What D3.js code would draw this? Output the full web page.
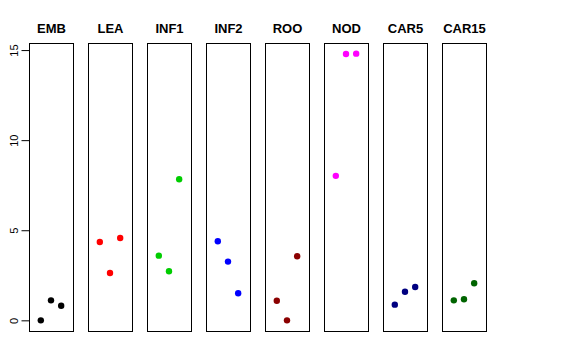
<!DOCTYPE html>
<html><head><meta charset="utf-8">
<script src="https://cdn.jsdelivr.net/npm/d3@7"></script>
<style>body{margin:0;background:#fff}svg{display:block}</style>
</head><body>
<svg id="c" width="576" height="360"></svg>
<script>
const categories = ["EMB","LEA","INF1","INF2","ROO","NOD","CAR5","CAR15"];
const colors = ["#000000","#FF0000","#00CD00","#0000FF","#8B0000","#FF00FF","#000080","#006400"];
const vEMB = [0, 1.11, 0.81];
const vLEA = [4.35, 2.63, 4.57];
const vINF1 = [3.59, 2.72, 7.83];
const vINF2 = [4.39, 3.26, 1.5];
const vROO = [1.09, 0, 3.56];
const vNOD = [8.02, 14.78, 14.8];
const vCAR5 = [0.87, 1.59, 1.85];
const vCAR15 = [1.11, 1.17, 2.06];
const seriesValues = [vEMB, vLEA, vINF1, vINF2, vROO, vNOD, vCAR5, vCAR15];
const yTicks = [0, 5, 10, 15];

const svg = d3.select("#c");
const plotTop = 43, plotBottom = 331;
const panelW = 44, firstX = 29, step = 59;
const y = d3.scaleLinear().domain([-0.592, 15.392]).range([plotBottom, plotTop]);
const panel = d3.scaleLinear().domain([0, 1]).range([firstX, firstX + step]);

categories.forEach((cat, i) => {
  const x0 = panel(i);
  const x = d3.scaleLinear().domain([-0.16, 4.16]).range([x0, x0 + panelW]);
  const g = svg.append("g");
  g.append("rect").attr("x", x0 + 0.5).attr("y", plotTop + 0.5)
    .attr("width", panelW).attr("height", plotBottom - plotTop)
    .attr("fill", "none").attr("stroke", "#000").attr("stroke-width", 1);
  g.append("text").attr("x", x0 + panelW / 2 + 0.5).attr("y", 33)
    .attr("text-anchor", "middle").attr("font-family", "Liberation Sans, Arial, sans-serif")
    .attr("font-weight", "bold").attr("font-size", 13).text(cat);
  g.selectAll("circle").data(seriesValues[i]).join("circle")
    .attr("cx", (d, j) => x(j + 1)).attr("cy", d => y(d))
    .attr("r", 3.2).attr("fill", colors[i]);
});

const ax = svg.append("g").attr("transform", `translate(${firstX + 0.5},0)`)
  .call(d3.axisLeft(y).tickValues(yTicks).tickSize(8).tickPadding(5).tickFormat(d3.format("d")));
ax.select(".domain").attr("d", `M0,${y(0)}V${y(15)}`).attr("stroke", "#000");
ax.selectAll(".tick line").attr("stroke", "#000");
ax.selectAll(".tick text")
  .attr("font-family", "Liberation Sans, Arial, sans-serif").attr("font-size", 11)
  .attr("fill", "#000").attr("text-anchor", "middle").attr("dy", null)
  .attr("x", null)
  .attr("transform", "translate(-16,0) rotate(-90)").attr("y", 4);
</script>
</body></html>
